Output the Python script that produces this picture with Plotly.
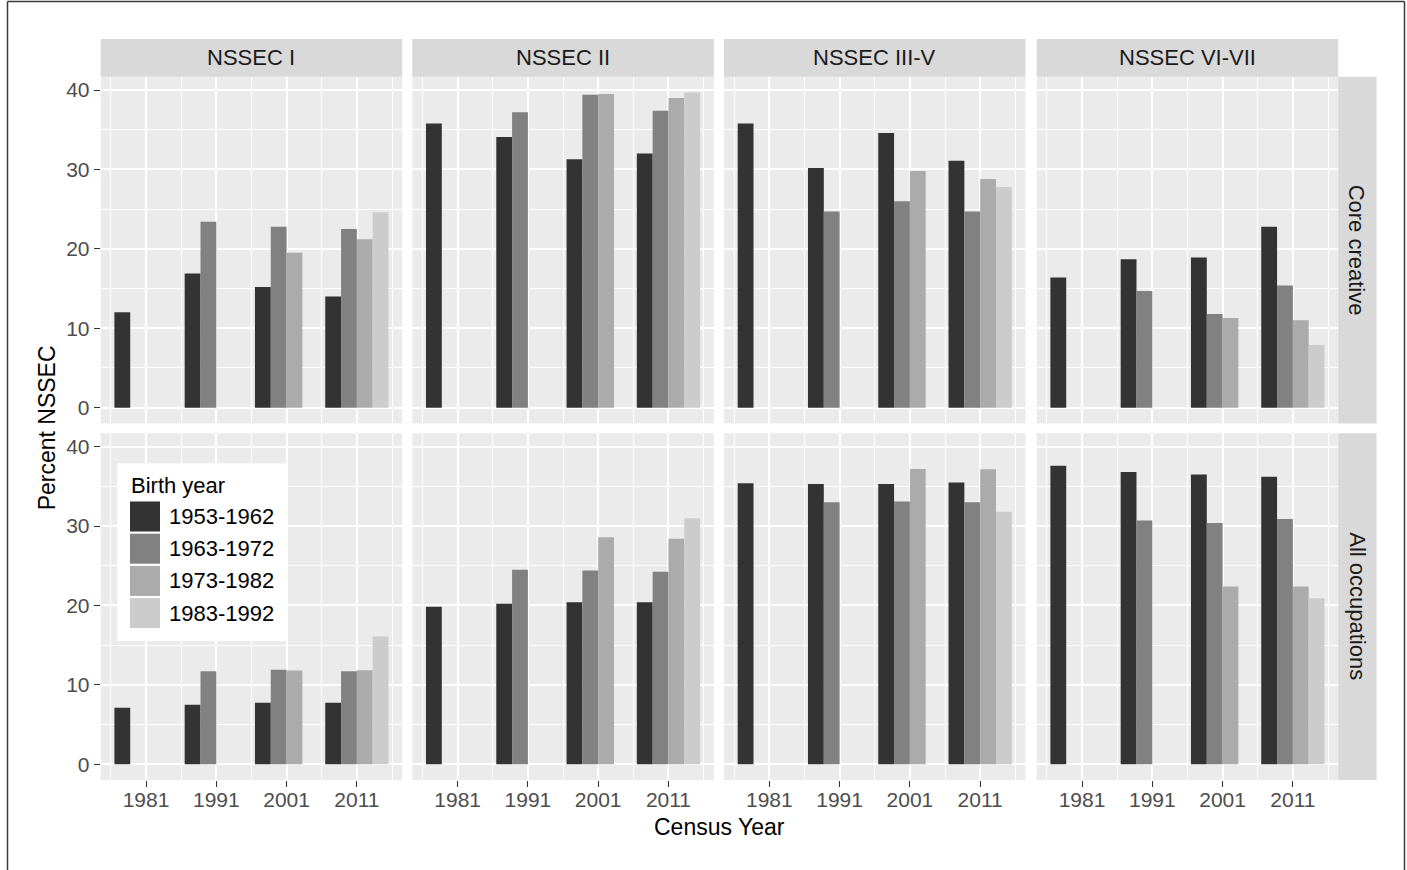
import plotly.graph_objects as go

# ---- data -------------------------------------------------------------
census_years = [1981, 1991, 2001, 2011]
cohorts = ["1953-1962", "1963-1972", "1973-1982", "1983-1992"]
nssec_classes = ["NSSEC I", "NSSEC II", "NSSEC III-V", "NSSEC VI-VII"]
occupation_groups = ["Core creative", "All occupations"]

# one list per birth cohort, indexed by census year (None = cohort not yet in work)
core_nssec_1 = [[12.0, 16.9, 15.2, 14.0],
                [None, 23.4, 22.8, 22.5],
                [None, None, 19.5, 21.2],
                [None, None, None, 24.6]]
core_nssec_2 = [[35.8, 34.1, 31.3, 32.0],
                [None, 37.2, 39.4, 37.4],
                [None, None, 39.5, 39.0],
                [None, None, None, 39.7]]
core_nssec_3_5 = [[35.8, 30.2, 34.6, 31.1],
                  [None, 24.7, 26.0, 24.7],
                  [None, None, 29.8, 28.8],
                  [None, None, None, 27.8]]
core_nssec_6_7 = [[16.4, 18.7, 18.9, 22.8],
                  [None, 14.7, 11.8, 15.4],
                  [None, None, 11.3, 11.0],
                  [None, None, None, 7.9]]

all_nssec_1 = [[7.1, 7.5, 7.75, 7.75],
               [None, 11.7, 11.9, 11.7],
               [None, None, 11.8, 11.85],
               [None, None, None, 16.1]]
all_nssec_2 = [[19.85, 20.2, 20.4, 20.4],
               [None, 24.5, 24.4, 24.25],
               [None, None, 28.6, 28.4],
               [None, None, None, 31.0]]
all_nssec_3_5 = [[35.4, 35.3, 35.3, 35.5],
                 [None, 33.0, 33.1, 33.0],
                 [None, None, 37.2, 37.15],
                 [None, None, None, 31.8]]
all_nssec_6_7 = [[37.6, 36.8, 36.5, 36.2],
                 [None, 30.7, 30.4, 30.9],
                 [None, None, 22.4, 22.4],
                 [None, None, None, 20.9]]

panel_data = [
    [core_nssec_1, core_nssec_2, core_nssec_3_5, core_nssec_6_7],
    [all_nssec_1, all_nssec_2, all_nssec_3_5, all_nssec_6_7],
]

cohort_colors = ["#333333", "#818181", "#ABABAB", "#CCCCCC"]

# ---- layout geometry (pixels) ----------------------------------------
W, H = 1407, 870
FONT = "Liberation Sans, Arial, sans-serif"
col_left = [100.7, 412.3, 724.0, 1036.7]
panel_w = 301.5
row_top = [76.7, 433.3]
panel_h = 346.7
strip_h = 37.7
strip_w = 38.4


def fx(px):
    return px / W


def fy(py):
    return 1 - py / H


fig = go.Figure()
layout = {}
shapes = []
annotations = []

x_range = [1974.55, 2017.45]
y_range = [-1.985, 41.685]

for r in range(2):
    for c in range(4):
        k = r * 4 + c + 1
        suffix = "" if k == 1 else str(k)
        for i, cohort in enumerate(cohorts):
            fig.add_trace(go.Bar(
                x=census_years,
                y=panel_data[r][c][i],
                name=cohort,
                marker=dict(color=cohort_colors[i], line=dict(width=0)),
                xaxis="x" + suffix,
                yaxis="y" + suffix,
                showlegend=False,
                hoverinfo="x+y+name",
            ))

        x0, x1 = col_left[c], col_left[c] + panel_w
        y0, y1 = row_top[r], row_top[r] + panel_h
        bottom_row = r == 1
        left_col = c == 0
        layout["xaxis" + suffix] = dict(
            domain=[fx(x0), fx(x1)],
            anchor="y" + suffix,
            range=x_range,
            tickmode="array",
            tickvals=census_years,
            ticktext=[str(v) for v in census_years],
            showticklabels=bottom_row,
            ticks="outside" if bottom_row else "",
            ticklen=6, tickwidth=1.4, tickcolor="#333333",
            ticklabelstandoff=-5,
            tickfont=dict(family=FONT, size=21, color="#4D4D4D"),
            showgrid=True, gridcolor="white", gridwidth=1.9,
            minor=dict(tickvals=[1976, 1986, 1996, 2006, 2016],
                       showgrid=True, gridcolor="white", gridwidth=0.9,
                       ticks=""),
            zeroline=False, showline=False, fixedrange=True,
        )
        layout["yaxis" + suffix] = dict(
            domain=[fy(y1), fy(y0)],
            anchor="x" + suffix,
            range=y_range,
            tickmode="array",
            tickvals=[0, 10, 20, 30, 40],
            showticklabels=left_col,
            ticks="outside" if left_col else "",
            ticklen=6, tickwidth=1.4, tickcolor="#333333",
            tickfont=dict(family=FONT, size=21, color="#4D4D4D"),
            showgrid=True, gridcolor="white", gridwidth=1.9,
            minor=dict(tickvals=[5, 15, 25, 35],
                       showgrid=True, gridcolor="white", gridwidth=0.9,
                       ticks=""),
            zeroline=False, showline=False, fixedrange=True,
        )

# ---- facet strips -----------------------------------------------------
for c, label in enumerate(nssec_classes):
    x0 = col_left[c]
    shapes.append(dict(type="rect", xref="paper", yref="paper",
                       x0=fx(x0), x1=fx(x0 + panel_w),
                       y0=fy(row_top[0]), y1=fy(row_top[0] - strip_h),
                       fillcolor="#D9D9D9", line=dict(width=0), layer="below"))
    annotations.append(dict(text=label, xref="paper", yref="paper",
                            x=fx(x0 + panel_w / 2), y=fy(row_top[0] - strip_h / 2),
                            showarrow=False, xanchor="center", yanchor="middle",
                            font=dict(family=FONT, size=22, color="#1A1A1A")))

strip_x0 = col_left[3] + panel_w
for r, label in enumerate(occupation_groups):
    y0 = row_top[r]
    shapes.append(dict(type="rect", xref="paper", yref="paper",
                       x0=fx(strip_x0), x1=fx(strip_x0 + strip_w),
                       y0=fy(y0 + panel_h), y1=fy(y0),
                       fillcolor="#D9D9D9", line=dict(width=0), layer="below"))
    annotations.append(dict(text=label, xref="paper", yref="paper",
                            x=fx(strip_x0 + strip_w / 2), y=fy(y0 + panel_h / 2),
                            showarrow=False, textangle=90,
                            xanchor="center", yanchor="middle",
                            font=dict(family=FONT, size=22, color="#1A1A1A")))

# ---- axis titles ------------------------------------------------------
annotations.append(dict(text="Census Year", xref="paper", yref="paper",
                        x=fx((col_left[0] + col_left[3] + panel_w) / 2), y=fy(827),
                        showarrow=False, xanchor="center", yanchor="middle",
                        font=dict(family=FONT, size=23, color="black")))
annotations.append(dict(text="Percent NSSEC", xref="paper", yref="paper",
                        x=fx(47), y=fy((row_top[0] + row_top[1] + panel_h) / 2),
                        showarrow=False, textangle=-90,
                        xanchor="center", yanchor="middle",
                        font=dict(family=FONT, size=23, color="black")))

# ---- legend inside the lower-left panel ------------------------------
leg_x0, leg_x1, leg_y0, leg_y1 = 117.3, 286.0, 463.3, 641.0
shapes.append(dict(type="rect", xref="paper", yref="paper",
                   x0=fx(leg_x0), x1=fx(leg_x1), y0=fy(leg_y1), y1=fy(leg_y0),
                   fillcolor="white", line=dict(width=0), layer="above"))
annotations.append(dict(text="Birth year", xref="paper", yref="paper",
                        x=fx(129.0), y=fy(485.5), showarrow=False,
                        xanchor="left", yanchor="middle",
                        font=dict(family=FONT, size=22, color="black")))
key_top, key_step, key_size = 501.5, 32.2, 30.0
for i, cohort in enumerate(cohorts):
    ky = key_top + i * key_step
    shapes.append(dict(type="rect", xref="paper", yref="paper",
                       x0=fx(130.0), x1=fx(160.0),
                       y0=fy(ky + key_size), y1=fy(ky),
                       fillcolor=cohort_colors[i], line=dict(width=0), layer="above"))
    annotations.append(dict(text=cohort, xref="paper", yref="paper",
                            x=fx(166.5), y=fy(ky + key_size / 2), showarrow=False,
                            xanchor="left", yanchor="middle",
                            font=dict(family=FONT, size=22, color="black")))

# ---- outer frame ------------------------------------------------------
frame = dict(color="#3A3A3A", width=1.5)
shapes.append(dict(type="line", xref="paper", yref="paper",
                   x0=fx(7.5), x1=fx(7.5), y0=0, y1=fy(1.5), line=frame))
shapes.append(dict(type="line", xref="paper", yref="paper",
                   x0=fx(7.5), x1=fx(1404.5), y0=fy(1.5), y1=fy(1.5), line=frame))
shapes.append(dict(type="line", xref="paper", yref="paper",
                   x0=fx(1404.5), x1=fx(1404.5), y0=0, y1=fy(1.5), line=frame))

fig.update_layout(
    width=W, height=H,
    margin=dict(l=0, r=0, t=0, b=0),
    paper_bgcolor="white",
    plot_bgcolor="#EBEBEB",
    barmode="group",
    bargap=0.1,
    bargroupgap=0,
    showlegend=False,
    shapes=shapes,
    annotations=annotations,
    font=dict(family=FONT),
    **layout,
)

fig.write_html("out.html", config={"displayModeBar": False})
